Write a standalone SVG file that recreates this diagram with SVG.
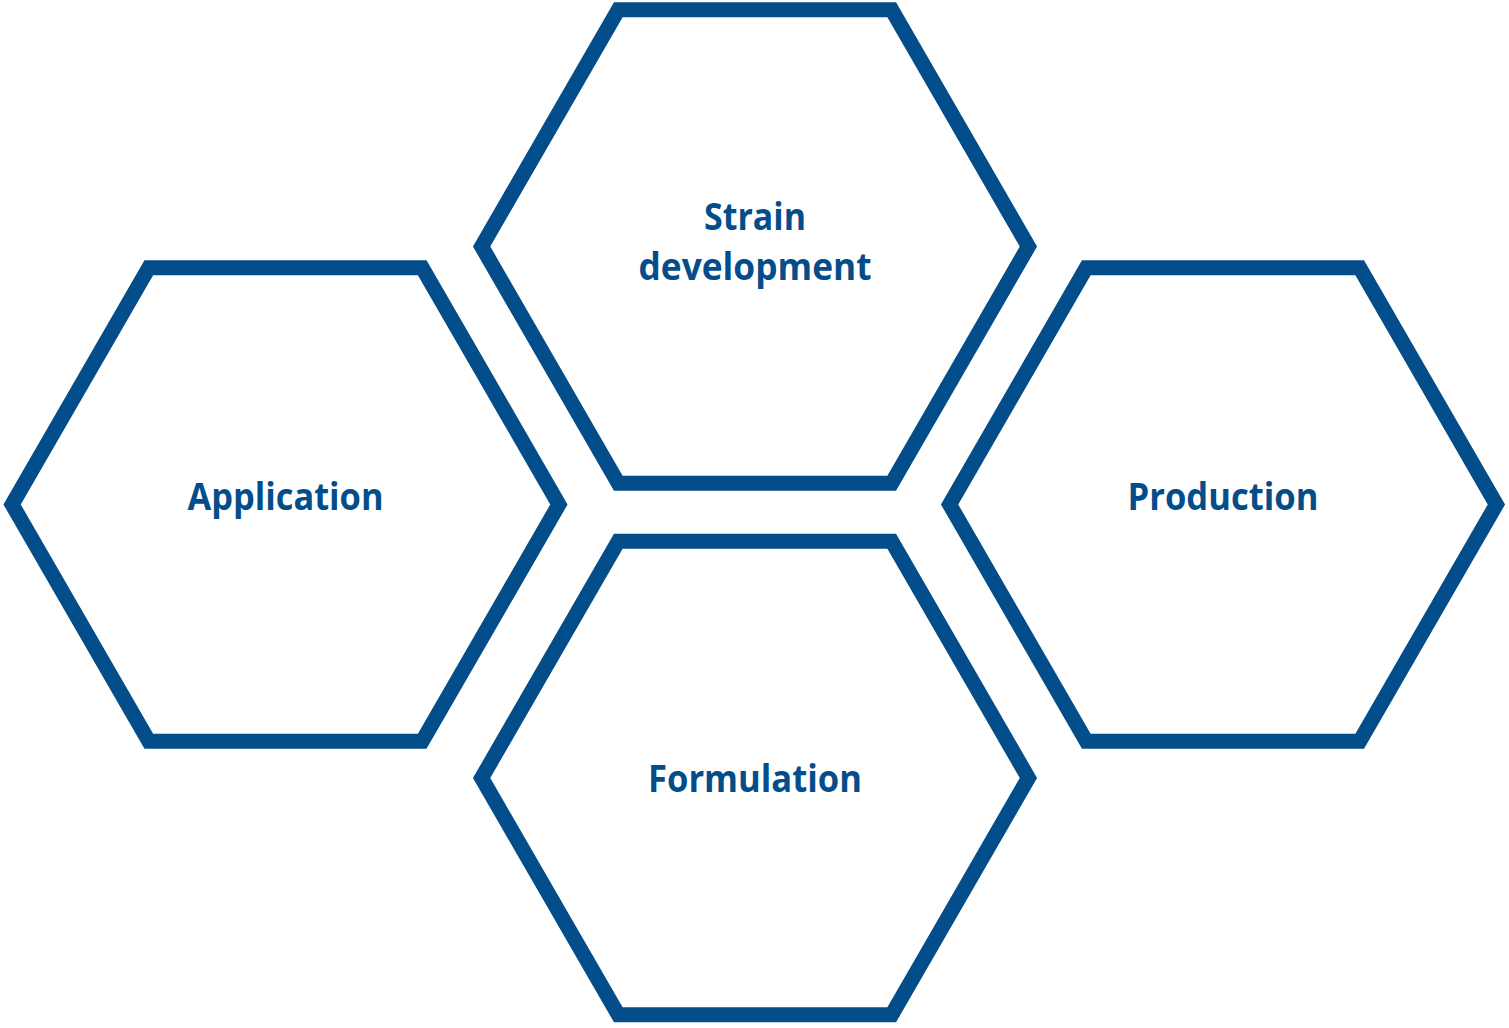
<svg xmlns="http://www.w3.org/2000/svg" width="1509" height="1028" viewBox="0 0 1509 1028">
<style>
.hex{fill:#ffffff;stroke:#034d8a;stroke-width:15;stroke-linejoin:miter}
.lbl{font-family:"Open Sans","Noto Sans","Liberation Sans",sans-serif;font-weight:700;font-size:37px;fill:#034d8a;text-anchor:middle}
</style>
<rect width="1509" height="1028" fill="#ffffff"/>
<g id="strain">
<polygon class="hex" points="481.6,246.5 618.3,9.7 891.7,9.7 1028.4,246.5 891.7,483.3 618.3,483.3"/>
<text class="lbl" x="755" y="230" textLength="102" lengthAdjust="spacingAndGlyphs">Strain</text>
<text class="lbl" x="755" y="280" textLength="233" lengthAdjust="spacingAndGlyphs">development</text>
</g>
<g id="application">
<polygon class="hex" points="12.1,504.5 148.8,267.7 422.2,267.7 558.9,504.5 422.2,741.3 148.8,741.3"/>
<text class="lbl" x="285.5" y="510" textLength="196" lengthAdjust="spacingAndGlyphs">Application</text>
</g>
<g id="production">
<polygon class="hex" points="949.6,504.5 1086.3,267.7 1359.7,267.7 1496.4,504.5 1359.7,741.3 1086.3,741.3"/>
<text class="lbl" x="1223" y="510" textLength="191" lengthAdjust="spacingAndGlyphs">Production</text>
</g>
<g id="formulation">
<polygon class="hex" points="481.6,778 618.3,541.2 891.7,541.2 1028.4,778 891.7,1014.8 618.3,1014.8"/>
<text class="lbl" x="755" y="792" textLength="214" lengthAdjust="spacingAndGlyphs">Formulation</text>
</g>
<g id="connectors"></g>
</svg>
